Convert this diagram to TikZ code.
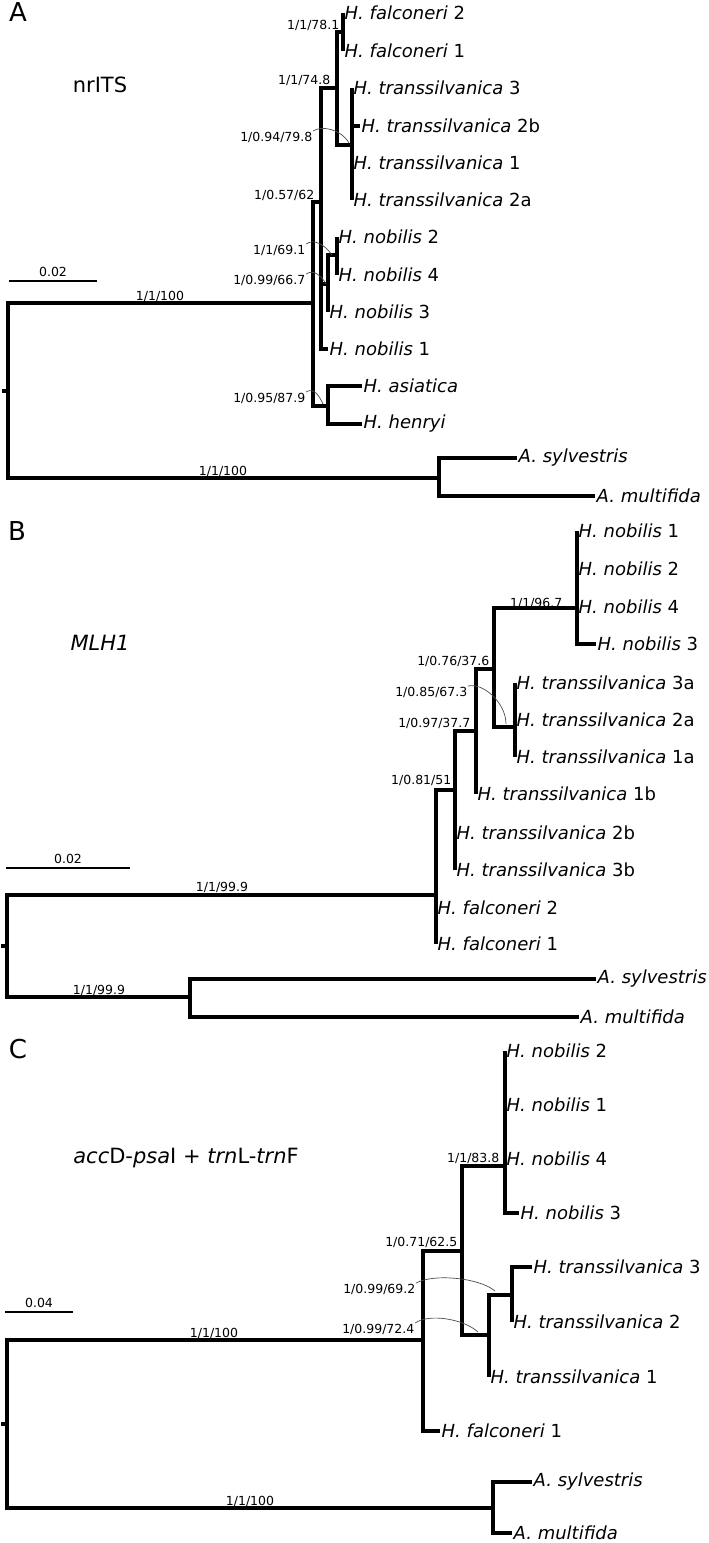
\documentclass[tikz,border=0pt]{standalone}
\usepackage{fontspec}
\setmainfont{DejaVu Sans}
\newcommand{\taxon}[2]{\textit{#1} #2}
\tikzset{
  branch/.style={line width=3.3pt},
  scalebar/.style={line width=2.6pt},
  supp/.style={font=\fontsize{12.5}{14}\selectfont, inner sep=0.5pt, anchor=east},
  brlab/.style={font=\fontsize{12.5}{14}\selectfont, inner sep=0pt},
  leaf/.style={font=\fontsize{18}{21}\selectfont, inner sep=1.5pt, anchor=west},
  arcline/.style={line width=0.7pt, black!70},
  panel/.style={font=\fontsize{26}{30}\selectfont, inner sep=0pt},
  gene/.style={font=\fontsize{21}{25}\selectfont, inner sep=0pt},
}
\begin{document}
\begin{tikzpicture}[x=1pt,y=-1pt]
\useasboundingbox (0,0) rectangle (709,1543);

% ---------- A: nrITS ----------
\node[panel] (pA) at (18,12) {A};
\node[gene] (gA) at (100,85) {nrITS};

\coordinate (rA0) at (2,391);
\coordinate (rA) at (8,391);
\coordinate (nA1) at (313,303);
\coordinate (nA2) at (321,202);
\coordinate (nA3) at (337,88);
\coordinate (nA4) at (343,32);
\coordinate (nA5) at (328,284);
\coordinate (nA6) at (352,145);
\coordinate (nA7) at (328,406);
\coordinate (nA8) at (337,255);
\coordinate (oA) at (439,478);

\node[leaf] (aFal2) at (343,13) {\taxon{H. falconeri}{2}};
\node[leaf] (aFal1) at (343,51) {\taxon{H. falconeri}{1}};
\node[leaf] (aTra3) at (352,88) {\taxon{H. transsilvanica}{3}};
\node[leaf] (aTra2b) at (360,126) {\taxon{H. transsilvanica}{2b}};
\node[leaf] (aTra1) at (352,163) {\taxon{H. transsilvanica}{1}};
\node[leaf] (aTra2a) at (352,200) {\taxon{H. transsilvanica}{2a}};
\node[leaf] (aNob2) at (337,237) {\taxon{H. nobilis}{2}};
\node[leaf] (aNob4) at (337,275) {\taxon{H. nobilis}{4}};
\node[leaf] (aNob3) at (328,312) {\taxon{H. nobilis}{3}};
\node[leaf] (aNob1) at (328,349) {\taxon{H. nobilis}{1}};
\node[leaf] (aAsi) at (362,386) {\textit{H. asiatica}};
\node[leaf] (aHen) at (362,424) {\textit{H. henryi}};
\node[leaf] (aSyl) at (517,458) {\textit{A. sylvestris}};
\node[leaf] (aMul) at (595,496) {\textit{A. multifida}};

\draw[branch] (rA0) -- (rA);
\foreach \p/\c in {rA/nA1,rA/oA,nA1/nA2,nA1/nA7,nA2/nA3,nA2/nA5,nA3/nA4,nA3/nA6,nA5/nA8}
  \draw[branch] (\p) |- (\c);
\foreach \p/\c in {nA4/aFal2,nA4/aFal1,nA6/aTra3,nA6/aTra2b,nA6/aTra1,nA6/aTra2a,
                   nA8/aNob2,nA8/aNob4,nA5/aNob3,nA2/aNob1,nA7/aAsi,nA7/aHen,oA/aSyl,oA/aMul}
  \draw[branch] (\p) |- (\c.west);

\node[supp] (sA4) at (340,25) {1/1/78.1};
\node[supp] (sA3) at (331,80) {1/1/74.8};
\node[supp] (sA6) at (313,137) {1/0.94/79.8};
\node[supp] (sA2) at (315,195) {1/0.57/62};
\node[supp] (sA8) at (306,250) {1/1/69.1};
\node[supp] (sA5) at (306,280) {1/0.99/66.7};
\node[supp] (sA7) at (306,398) {1/0.95/87.9};
\node[brlab] (bA1) at (160,296) {1/1/100};
\node[brlab] (bA2) at (223,471) {1/1/100};

\draw[arcline] (sA6.north east) .. controls +(8,-6) and +(-8,-14) .. ([xshift=-3pt,yshift=2pt]nA6);
\draw[arcline] (sA8.north east) .. controls +(8,-6) and +(-7,-10) .. ([xshift=-5pt]nA8);
\draw[arcline] (sA5.north east) .. controls +(7,-5) and +(-5,-9) .. ([xshift=-2pt]nA5);
\draw[arcline] (sA7.north east) .. controls +(7,-5) and +(-4,-9) .. ([xshift=-5pt,yshift=2pt]nA7);

\coordinate (kA0) at (9,281);
\coordinate (kA1) at (97,281);
\draw[scalebar] (kA0) -- (kA1) node[brlab,midway,above=3pt] (kA) {0.02};

% ---------- B: MLH1 ----------
\node[panel] (pB) at (17,531) {B};
\node[gene] (gB) at (100,643) {\textit{MLH1}};

\coordinate (rB0) at (1,946);
\coordinate (rB) at (7,946);
\coordinate (nB1) at (436,895);
\coordinate (nB2) at (455,790);
\coordinate (nB3) at (476,731);
\coordinate (nB4) at (494,669);
\coordinate (nB5) at (577,608);
\coordinate (nB6) at (515,727);
\coordinate (oB) at (190,997);

\node[leaf] (bNob1) at (577,531) {\taxon{H. nobilis}{1}};
\node[leaf] (bNob2) at (577,569) {\taxon{H. nobilis}{2}};
\node[leaf] (bNob4) at (577,607) {\taxon{H. nobilis}{4}};
\node[leaf] (bNob3) at (596,644) {\taxon{H. nobilis}{3}};
\node[leaf] (bTra3a) at (515,683) {\taxon{H. transsilvanica}{3a}};
\node[leaf] (bTra2a) at (515,720) {\taxon{H. transsilvanica}{2a}};
\node[leaf] (bTra1a) at (515,757) {\taxon{H. transsilvanica}{1a}};
\node[leaf] (bTra1b) at (476,794) {\taxon{H. transsilvanica}{1b}};
\node[leaf] (bTra2b) at (455,833) {\taxon{H. transsilvanica}{2b}};
\node[leaf] (bTra3b) at (455,870) {\taxon{H. transsilvanica}{3b}};
\node[leaf] (bFal2) at (436,908) {\taxon{H. falconeri}{2}};
\node[leaf] (bFal1) at (436,944) {\taxon{H. falconeri}{1}};
\node[leaf] (bSyl) at (596,979) {\textit{A. sylvestris}};
\node[leaf] (bMul) at (579,1017) {\textit{A. multifida}};

\draw[branch] (rB0) -- (rB);
\foreach \p/\c in {rB/nB1,rB/oB,nB1/nB2,nB2/nB3,nB3/nB4,nB4/nB5,nB4/nB6}
  \draw[branch] (\p) |- (\c);
\foreach \p/\c in {nB5/bNob1,nB5/bNob2,nB5/bNob4,nB5/bNob3,nB6/bTra3a,nB6/bTra2a,nB6/bTra1a,
                   nB3/bTra1b,nB2/bTra2b,nB2/bTra3b,nB1/bFal2,nB1/bFal1,oB/bSyl,oB/bMul}
  \draw[branch] (\p) |- (\c.west);

\node[supp] (sB5) at (563,603) {1/1/96.7};
\node[supp] (sB4) at (490,661) {1/0.76/37.6};
\node[supp] (sB6) at (468,692) {1/0.85/67.3};
\node[supp] (sB3) at (471,723) {1/0.97/37.7};
\node[supp] (sB2) at (452,780) {1/0.81/51};
\node[brlab] (bB1) at (222,887) {1/1/99.9};
\node[brlab] (bB2) at (99,990) {1/1/99.9};

\draw[arcline] (sB6.north east) .. controls +(14,-4) and +(0,-22) .. ([xshift=-9pt,yshift=3pt]nB6);

\coordinate (kB0) at (6,868);
\coordinate (kB1) at (130,868);
\draw[scalebar] (kB0) -- (kB1) node[brlab,midway,above=3pt] (kB) {0.02};

% ---------- C: accD-psaI + trnL-trnF ----------
\node[panel] (pC) at (18,1049) {C};
\node[gene] (gC) at (186,1158) {\textit{acc}D-\textit{psa}I + \textit{trn}L-\textit{trn}F};

\coordinate (rC0) at (1,1424);
\coordinate (rC) at (7,1424);
\coordinate (nC1) at (423,1340);
\coordinate (nC2) at (462,1251);
\coordinate (nC3) at (505,1166);
\coordinate (nC4) at (489,1335);
\coordinate (nC5) at (512,1295);
\coordinate (oC) at (493,1508);

\node[leaf] (cNob2) at (505,1051) {\taxon{H. nobilis}{2}};
\node[leaf] (cNob1) at (505,1105) {\taxon{H. nobilis}{1}};
\node[leaf] (cNob4) at (505,1159) {\taxon{H. nobilis}{4}};
\node[leaf] (cNob3) at (519,1213) {\taxon{H. nobilis}{3}};
\node[leaf] (cTra3) at (532,1267) {\taxon{H. transsilvanica}{3}};
\node[leaf] (cTra2) at (512,1322) {\taxon{H. transsilvanica}{2}};
\node[leaf] (cTra1) at (489,1377) {\taxon{H. transsilvanica}{1}};
\node[leaf] (cFal1) at (440,1431) {\taxon{H. falconeri}{1}};
\node[leaf] (cSyl) at (532,1482) {\textit{A. sylvestris}};
\node[leaf] (cMul) at (512,1533) {\textit{A. multifida}};

\draw[branch] (rC0) -- (rC);
\foreach \p/\c in {rC/nC1,rC/oC,nC1/nC2,nC2/nC3,nC2/nC4,nC4/nC5}
  \draw[branch] (\p) |- (\c);
\foreach \p/\c in {nC3/cNob2,nC3/cNob1,nC3/cNob4,nC3/cNob3,nC5/cTra3,nC5/cTra2,nC4/cTra1,
                   nC1/cFal1,oC/cSyl,oC/cMul}
  \draw[branch] (\p) |- (\c.west);

\node[supp] (sC3) at (500,1158) {1/1/83.8};
\node[supp] (sC2) at (458,1242) {1/0.71/62.5};
\node[supp] (sC5) at (416,1289) {1/0.99/69.2};
\node[supp] (sC4) at (415,1329) {1/0.99/72.4};
\node[brlab] (bC1) at (214,1333) {1/1/100};
\node[brlab] (bC2) at (250,1501) {1/1/100};

\draw[arcline] (sC5.north east) .. controls +(18,-10) and +(-15,-13) .. ([xshift=-17pt,yshift=4pt]nC5);
\draw[arcline] (sC4.north east) .. controls +(14,-10) and +(-14,-13) .. ([xshift=-11pt,yshift=3pt]nC4);

\coordinate (kC0) at (5,1312);
\coordinate (kC1) at (73,1312);
\draw[scalebar] (kC0) -- (kC1) node[brlab,midway,above=3pt] (kC) {0.04};
\end{tikzpicture}
\end{document}
